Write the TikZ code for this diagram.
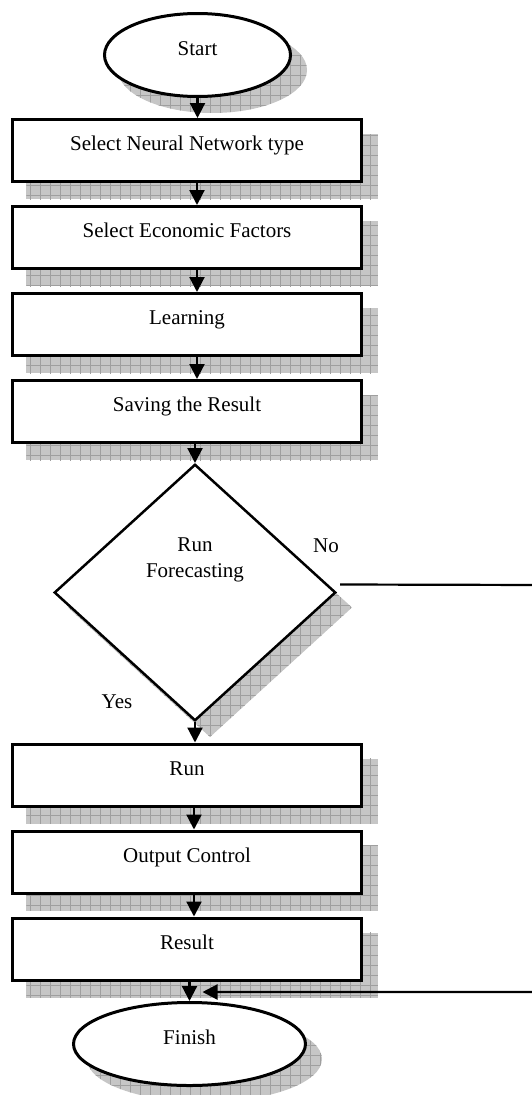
\documentclass[tikz,border=0pt]{standalone}
\usepackage{fontspec}
\setmainfont{Liberation Serif}
\usetikzlibrary{arrows.meta}
\usetikzlibrary{positioning}
\usetikzlibrary{shapes.geometric}
\usetikzlibrary{patterns}
\usetikzlibrary{backgrounds}
\pgfdeclarepatternformonly{shgrid}{\pgfqpoint{-1pt}{-1pt}}{\pgfqpoint{11pt}{11pt}}{\pgfqpoint{10pt}{10pt}}{
  \pgfsetlinewidth{0.9pt}
  \pgfpathmoveto{\pgfqpoint{0pt}{0pt}}\pgfpathlineto{\pgfqpoint{10pt}{0pt}}
  \pgfpathmoveto{\pgfqpoint{0pt}{0pt}}\pgfpathlineto{\pgfqpoint{0pt}{10pt}}
  \pgfusepath{stroke}}
\tikzset{box/.style = {draw, fill=white, line width=3pt, minimum width=348.5pt, minimum height=62pt,
    text height=15pt, text depth=15pt, inner sep=0pt}}
\tikzset{term/.style = {ellipse, draw, fill=white, line width=3pt, minimum height=83pt,
    text height=15pt, text depth=15pt, inner sep=0pt}}
\tikzset{dia/.style = {diamond, draw, fill=white, line width=2.5pt, minimum width=281.5pt, minimum height=256.5pt, inner sep=0pt}}
\tikzset{shd/.style = {fill=gray!45, postaction={pattern=shgrid, pattern color=gray!75}}}
\tikzset{arr/.style = {-{Triangle[length=15pt,width=15pt]}, line width=2.2pt}}

\begin{document}
\begin{tikzpicture}[x=1pt, y=-1pt, font=\fontsize{21}{26}\selectfont, node distance=22pt]
    \useasboundingbox (0, 0) rectangle (532, 1095);
    \node [term, minimum width=186pt] (start) at (197.5, 55) {Start};
    \node [box] (sel) at (187, 150.5) {Select Neural Network type};
    \node [box, below=of sel] (eco) {Select Economic Factors};
    \node [box, below=of eco] (learn) {Learning};
    \node [box, below=of learn] (save) {Saving the Result};
    \node [dia] (dec) at (195, 592.5) {};
    \node [align=center] (dectxt) at ([yshift=33pt]dec.center) {Run\\Forecasting};
    \node (nolbl) at (326, 546) {No};
    \node (yeslbl) at (117, 702) {Yes};
    \node [box] (run) at (187, 775) {Run};
    \node [box, below=of run] (outc) {Output Control};
    \node [box, below=of outc] (res) {Result};
    \node [term, minimum width=232pt] (fin) at (189.5, 1044) {Finish};
    \coordinate (offR) at (545, 585);

    \begin{scope}[on background layer]
      \foreach \n in {sel,eco,learn,save,run,outc,res}{
        \path [shd] ([shift={(15,16)}]\n.south west) rectangle ([shift={(15,16)}]\n.north east);
      }
      \path [shd] ([shift={(15,15)}]dec.north) -- ([shift={(15,15)}]dec.east)
        -- ([shift={(15,15)}]dec.south) -- ([shift={(15,15)}]dec.west) -- cycle;
      \foreach \n/\rx in {start/94.5,fin/117.5}{
        \path [shd] ([shift={(15,15)}]\n.center) ellipse [x radius=\rx pt, y radius=43pt];
      }
    \end{scope}

    \draw [arr] (start.south) -- (start.south |- sel.north);
    \foreach \a/\b in {sel/eco,eco/learn,learn/save}{
      \draw [arr] ([xshift=10pt]\a.south) -- ([xshift=10pt]\b.north);
    }
    \draw [arr] (save.south -| dec.north) -- (dec.north);
    \draw [arr] (dec.south) -- (dec.south |- run.north);
    \foreach \a/\b in {run/outc,outc/res}{
      \draw [arr] ([xshift=7pt]\a.south) -- ([xshift=7pt]\b.north);
    }
    \draw [arr] (res.south -| fin.north) -- (fin.north);
    \draw [arr] ([xshift=3pt,yshift=8pt]dec.east) -- (offR) |- ([xshift=13pt,yshift=9pt]fin.north);
  \end{tikzpicture}
\end{document}
